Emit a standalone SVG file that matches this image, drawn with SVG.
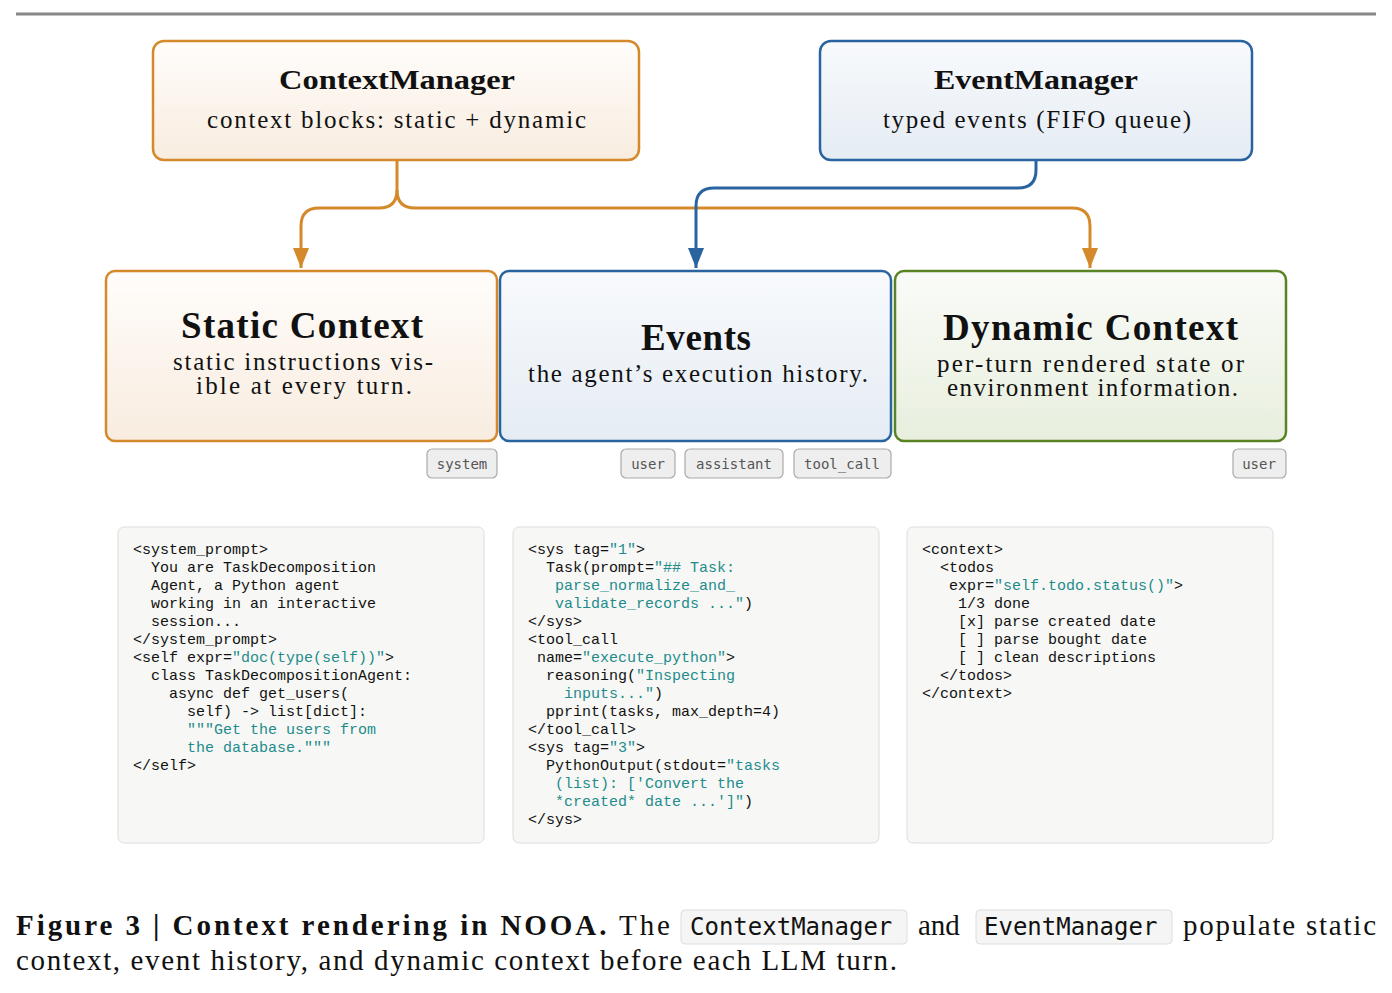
<svg xmlns="http://www.w3.org/2000/svg" width="1392" height="993" viewBox="0 0 1392 993">
<defs>
<linearGradient id="go" x1="0" y1="0" x2="0" y2="1"><stop offset="0" stop-color="#FFFDFB"/><stop offset="1" stop-color="#F8ECDF"/></linearGradient>
<linearGradient id="gb" x1="0" y1="0" x2="0" y2="1"><stop offset="0" stop-color="#F8FAFC"/><stop offset="1" stop-color="#E5ECF4"/></linearGradient>
<linearGradient id="gg" x1="0" y1="0" x2="0" y2="1"><stop offset="0" stop-color="#FAFBF8"/><stop offset="1" stop-color="#E8EFDE"/></linearGradient>
<marker id="ao" viewBox="0 0 10 10" refX="10" refY="5" markerWidth="20" markerHeight="16" orient="auto" markerUnits="userSpaceOnUse" preserveAspectRatio="none"><path d="M0,0L10,5L0,10z" fill="#D4892A"/></marker>
<marker id="ab" viewBox="0 0 10 10" refX="10" refY="5" markerWidth="20" markerHeight="16" orient="auto" markerUnits="userSpaceOnUse" preserveAspectRatio="none"><path d="M0,0L10,5L0,10z" fill="#2A64A0"/></marker>
<style>
.serif{font-family:"Liberation Serif","DejaVu Serif",serif;fill:#111}
.t1{font-size:28px;font-weight:bold}
.t2{font-size:37px;font-weight:bold}
.s{font-size:25px}
.mono{font-family:"Liberation Mono","DejaVu Sans Mono",monospace;font-size:15px;fill:#111}
.g{fill:#1E8C8C}
.tag{fill:#EEEEEE;stroke:#AAAAAA;stroke-width:1.2}
.tagt{font-family:"DejaVu Sans Mono",monospace;font-size:14px;fill:#555}
.code{fill:#F7F7F5;stroke:#DDDDDD;stroke-width:1}
.cap{font-family:"Liberation Serif","DejaVu Serif",serif;font-size:29px;fill:#111}
</style>
</defs>
<line x1="16" y1="14" x2="1376" y2="14" stroke="#888" stroke-width="3"/>
<g id="connectors" fill="none" stroke-width="3">
<path d="M397,160V190Q397,208 379,208H319Q301,208 301,226V268" stroke="#D4892A" marker-end="url(#ao)"/>
<path d="M397,190Q397,208 415,208H1072Q1090,208 1090,226V268" stroke="#D4892A" marker-end="url(#ao)"/>
<path d="M1036,160V170Q1036,188 1018,188H714Q696,188 696,206V268" stroke="#2A64A0" marker-end="url(#ab)"/>
</g>
<g id="contextmanager"><rect x="153" y="41" width="486" height="119" rx="11" fill="url(#go)" stroke="#D4892A" stroke-width="2.5"/>
<text class="serif t1" x="279" y="89" textLength="236" lengthAdjust="spacingAndGlyphs">ContextManager</text>
<text class="serif s" x="207" y="128" textLength="379" lengthAdjust="spacing">context blocks:  static + dynamic</text></g>
<g id="eventmanager"><rect x="820" y="41" width="432" height="119" rx="11" fill="url(#gb)" stroke="#2A64A0" stroke-width="2.5"/>
<text class="serif t1" x="934" y="89" textLength="204" lengthAdjust="spacingAndGlyphs">EventManager</text>
<text class="serif s" x="883" y="128" textLength="308" lengthAdjust="spacing">typed events (FIFO queue)</text></g>
<g id="static"><rect x="106" y="271" width="391" height="170" rx="9" fill="url(#go)" stroke="#D4892A" stroke-width="2.5"/>
<text class="serif t2" x="181" y="338" textLength="242" lengthAdjust="spacing">Static Context</text>
<text class="serif s" x="173" y="370" textLength="260" lengthAdjust="spacing">static instructions vis-</text>
<text class="serif s" x="196" y="394" textLength="216" lengthAdjust="spacing">ible at every turn.</text>
<rect class="tag" x="427" y="449" width="70" height="29" rx="5"/><text class="tagt" x="462" y="469" text-anchor="middle">system</text></g>
<g id="events"><rect x="500" y="271" width="391" height="170" rx="9" fill="url(#gb)" stroke="#2A64A0" stroke-width="2.5"/>
<text class="serif t2" x="641" y="350" textLength="110" lengthAdjust="spacing">Events</text>
<text class="serif s" x="528" y="382" textLength="340" lengthAdjust="spacing">the agent’s execution history.</text>
<rect class="tag" x="621" y="449" width="54" height="29" rx="5"/><text class="tagt" x="648" y="469" text-anchor="middle">user</text>
<rect class="tag" x="685" y="449" width="98" height="29" rx="5"/><text class="tagt" x="734" y="469" text-anchor="middle">assistant</text>
<rect class="tag" x="794" y="449" width="97" height="29" rx="5"/><text class="tagt" x="842" y="469" text-anchor="middle">tool_call</text></g>
<g id="dynamic"><rect x="895" y="271" width="391" height="170" rx="9" fill="url(#gg)" stroke="#5A8424" stroke-width="2.5"/>
<text class="serif t2" x="943" y="340" textLength="295" lengthAdjust="spacing">Dynamic Context</text>
<text class="serif s" x="937" y="372" textLength="307" lengthAdjust="spacing">per-turn rendered state or</text>
<text class="serif s" x="947" y="396" textLength="291" lengthAdjust="spacing">environment information.</text>
<rect class="tag" x="1233" y="449" width="53" height="29" rx="5"/><text class="tagt" x="1259" y="469" text-anchor="middle">user</text></g>
<g id="code1"><rect class="code" x="118" y="527" width="366" height="316" rx="6"/>
<text class="mono" xml:space="preserve"><tspan x="133" y="554">&lt;system_prompt&gt;</tspan><tspan x="133" y="572">  You are TaskDecomposition</tspan><tspan x="133" y="590">  Agent, a Python agent</tspan><tspan x="133" y="608">  working in an interactive</tspan><tspan x="133" y="626">  session...</tspan><tspan x="133" y="644">&lt;/system_prompt&gt;</tspan><tspan x="133" y="662">&lt;self expr=<tspan class="g">"doc(type(self))"</tspan>&gt;</tspan><tspan x="133" y="680">  class TaskDecompositionAgent:</tspan><tspan x="133" y="698">    async def get_users(</tspan><tspan x="133" y="716">      self) -&gt; list[dict]:</tspan><tspan x="133" y="734" class="g">      """Get the users from</tspan><tspan x="133" y="752" class="g">      the database."""</tspan><tspan x="133" y="770">&lt;/self&gt;</tspan></text></g>
<g id="code2"><rect class="code" x="513" y="527" width="366" height="316" rx="6"/>
<text class="mono" xml:space="preserve"><tspan x="528" y="554">&lt;sys tag=<tspan class="g">"1"</tspan>&gt;</tspan><tspan x="528" y="572">  Task(prompt=<tspan class="g">"## Task:</tspan></tspan><tspan x="528" y="590" class="g">   parse_normalize_and_</tspan><tspan x="528" y="608"><tspan class="g">   validate_records ..."</tspan>)</tspan><tspan x="528" y="626">&lt;/sys&gt;</tspan><tspan x="528" y="644">&lt;tool_call</tspan><tspan x="528" y="662"> name=<tspan class="g">"execute_python"</tspan>&gt;</tspan><tspan x="528" y="680">  reasoning(<tspan class="g">"Inspecting</tspan></tspan><tspan x="528" y="698"><tspan class="g">    inputs..."</tspan>)</tspan><tspan x="528" y="716">  pprint(tasks, max_depth=4)</tspan><tspan x="528" y="734">&lt;/tool_call&gt;</tspan><tspan x="528" y="752">&lt;sys tag=<tspan class="g">"3"</tspan>&gt;</tspan><tspan x="528" y="770">  PythonOutput(stdout=<tspan class="g">"tasks</tspan></tspan><tspan x="528" y="788" class="g">   (list): ['Convert the</tspan><tspan x="528" y="806"><tspan class="g">   *created* date ...']"</tspan>)</tspan><tspan x="528" y="824">&lt;/sys&gt;</tspan></text></g>
<g id="code3"><rect class="code" x="907" y="527" width="366" height="316" rx="6"/>
<text class="mono" xml:space="preserve"><tspan x="922" y="554">&lt;context&gt;</tspan><tspan x="922" y="572">  &lt;todos</tspan><tspan x="922" y="590">   expr=<tspan class="g">"self.todo.status()"</tspan>&gt;</tspan><tspan x="922" y="608">    1/3 done</tspan><tspan x="922" y="626">    [x] parse created date</tspan><tspan x="922" y="644">    [ ] parse bought date</tspan><tspan x="922" y="662">    [ ] clean descriptions</tspan><tspan x="922" y="680">  &lt;/todos&gt;</tspan><tspan x="922" y="698">&lt;/context&gt;</tspan></text></g>
<g id="caption">
<rect x="681" y="910" width="226" height="34" rx="4" fill="#F5F5F5" stroke="#DDD"/>
<rect x="976" y="910" width="196" height="34" rx="4" fill="#F5F5F5" stroke="#DDD"/>
<text class="cap" x="16" y="935" textLength="654" lengthAdjust="spacing"><tspan font-weight="bold">Figure 3 | Context rendering in NOOA.</tspan> The</text>
<text x="690" y="935" font-family="DejaVu Sans Mono,monospace" font-size="24" fill="#111">ContextManager</text>
<text class="cap" x="918" y="935">and</text>
<text x="984" y="935" font-family="DejaVu Sans Mono,monospace" font-size="24" fill="#111">EventManager</text>
<text class="cap" x="1183" y="935" textLength="193" lengthAdjust="spacing">populate static</text>
<text class="cap" x="16" y="970" textLength="881" lengthAdjust="spacing">context, event history, and dynamic context before each LLM turn.</text>
</g>
</svg>
